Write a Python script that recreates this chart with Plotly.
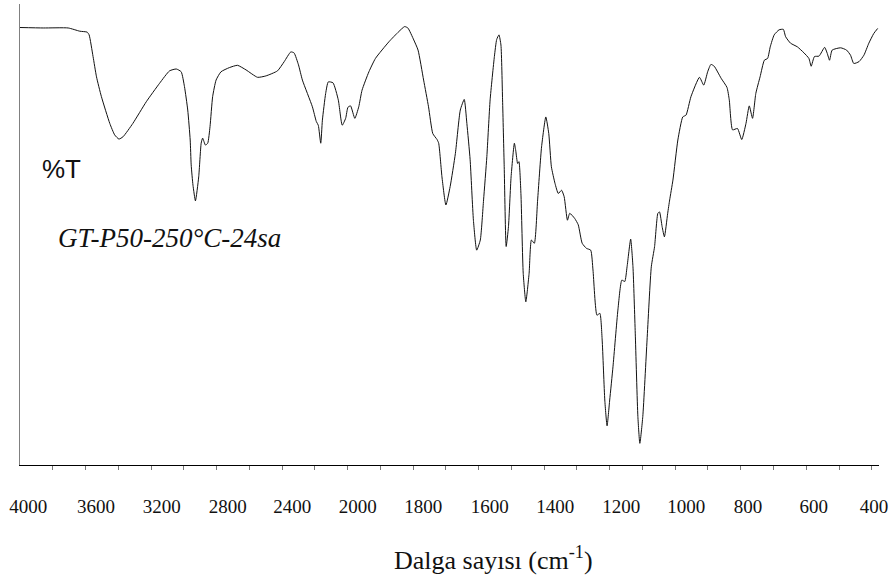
import plotly.graph_objects as go

# ---- data (wavenumber in cm-1, transmittance in %) ----
wavenumber = [4000, 3858, 3706, 3635, 3590, 3578, 3554, 3533, 3503, 3452, 3422, 3396, 3371,
              3311, 3229, 3148, 3087, 3046, 3016, 2996, 2976, 2961, 2955, 2944, 2929, 2909,
              2894, 2885, 2868, 2854, 2840, 2824, 2803, 2773, 2722, 2672, 2620, 2550, 2499,
              2428, 2387, 2347, 2327, 2300, 2276, 2215, 2191, 2179, 2164, 2154, 2134, 2118,
              2089, 2057, 2033, 2012, 1999, 1991, 1978, 1966, 1956, 1935, 1915, 1874, 1844,
              1826, 1816, 1798, 1785, 1768, 1753, 1740, 1727, 1722, 1712, 1700, 1687, 1671,
              1656, 1644, 1636, 1626, 1616, 1606, 1595, 1585, 1575, 1565, 1552, 1545, 1538,
              1532, 1527, 1522, 1516, 1509, 1501, 1491, 1487, 1481, 1477, 1471, 1464, 1456,
              1446, 1439, 1430, 1420, 1408, 1395, 1386, 1378, 1367, 1357, 1347, 1339, 1329,
              1322, 1307, 1296, 1284, 1271, 1258, 1251, 1239, 1230, 1223, 1215, 1208, 1200,
              1190, 1175, 1163, 1154, 1147, 1136, 1129, 1122, 1114, 1108, 1099, 1086, 1073,
              1063, 1053, 1048, 1040, 1033, 1023, 1017, 1007, 992, 977, 967, 952, 926, 913,
              901, 891, 881, 860, 842, 835, 825, 810, 797, 784, 774, 764, 754, 741, 728, 718,
              710, 698, 683, 670, 663, 648, 627, 607, 592, 585, 575, 561, 544, 536, 529, 521,
              495, 477, 465, 455, 439, 424, 409, 394, 382]
transmittance = [94.9, 94.8, 94.8, 94.1, 93.9, 93.3, 88.6, 84.2, 79.9, 74.1, 71.6, 70.7, 71.2,
                 74.1, 78.8, 82.8, 85.5, 85.9, 85.3, 82.1, 77.0, 70.5, 65.1, 60.7, 57.3, 62.5,
                 69.8, 70.9, 69.4, 69.8, 73.4, 79.9, 83.5, 85.3, 86.2, 86.7, 85.7, 84.1, 84.4,
                 85.5, 87.5, 89.6, 89.4, 86.8, 83.5, 77.7, 74.5, 73.7, 69.8, 74.8, 80.6, 83.1,
                 82.9, 79.2, 73.7, 75.2, 77.6, 77.9, 75.2, 77.7, 81.3, 85.3, 88.2, 91.8, 94.0,
                 95.1, 94.8, 92.2, 90.0, 83.5, 77.7, 71.9, 70.6, 69.8, 62.5, 56.4, 60.4, 67.6,
                 77.0, 79.3, 74.1, 66.2, 53.1, 46.6, 48.8, 57.5, 66.9, 79.2, 88.6, 92.3, 93.3,
                 91.1, 79.2, 64.7, 47.4, 51.7, 62.5, 69.8, 68.3, 65.4, 65.8, 58.9, 41.6, 35.4,
                 41.6, 48.8, 48.1, 57.5, 69.0, 75.5, 71.9, 64.7, 61.1, 58.9, 59.6, 58.2, 53.1,
                 54.6, 53.5, 52.1, 48.1, 47.0, 46.6, 42.3, 32.5, 32.9, 27.1, 14.1, 8.5, 14.1,
                 21.3, 33.6, 40.1, 39.8, 43.0, 49.0, 43.0, 28.6, 10.5, 4.7, 10.5, 27.1, 43.0,
                 47.4, 54.6, 54.9, 51.7, 49.5, 54.6, 57.5, 61.8, 70.5, 75.5, 75.9, 79.9, 84.1, 82.4,
                 85.3, 86.9, 86.5, 83.9, 81.9, 79.2, 72.7, 73.0, 70.6, 74.1, 77.9, 75.2, 80.6, 84.2, 87.8, 88.2,
                 90.7, 93.3, 94.4, 94.5, 92.9, 91.5, 90.7, 89.4, 88.2, 86.5, 88.6, 88.7, 90.6, 89.3, 87.8, 90.0,
                 90.5, 90.0, 88.9, 87.1, 87.5, 88.9, 91.5, 93.6, 94.7]

tick_labels = [4000, 3600, 3200, 2800, 2400, 2000, 1800, 1600, 1400, 1200, 1000, 800, 600, 400]
minor_ticks = list(range(3800, 2000, -200)) + list(range(2000, 399, -100))

# ---- styling ----
SERIF = "Liberation Serif, Times New Roman, Times, serif"
SANS = "Liberation Sans, Arial, Helvetica, sans-serif"
label_shift = [0.25, 0.32, 0.33, 0.34, 0.31, 0.31, 0.31, 0.34, 0.34, 0.35, 0.34, 0.22, 0.23, 0.07]


def wn_to_pos(w):
    """Instrument-style split wavenumber scale: 400 cm-1 per division above 2000,
    100 cm-1 per division below 2000 (each division the same length)."""
    return (4000 - w) / 200.0 if w >= 2000 else 10 + (2000 - w) / 100.0


xpos = [wn_to_pos(w) for w in wavenumber]

fig = go.Figure()
fig.add_trace(go.Scatter(
    x=xpos, y=transmittance, mode="lines",
    line=dict(color="#111111", width=1, shape="spline", smoothing=0.5),
    hoverinfo="skip", showlegend=False,
))

fig.update_layout(
    width=892, height=582,
    margin=dict(l=20, r=10, t=4, b=117),
    paper_bgcolor="white", plot_bgcolor="white",
    font=dict(family=SERIF, color="#111111"),
    xaxis=dict(
        range=[0, wn_to_pos(378)],
        showgrid=False, zeroline=False,
        showline=True, linecolor="#000000", linewidth=1,
        tickmode="array",
        tickvals=[wn_to_pos(w) + s for w, s in zip(tick_labels, label_shift)],
        ticktext=[str(w) for w in tick_labels],
        ticks="", tickfont=dict(family=SERIF, size=19, color="#111111"),
        ticklabelstandoff=24,
        minor=dict(tickmode="array", tickvals=[wn_to_pos(w) for w in minor_ticks],
                   ticks="outside", ticklen=4, tickcolor="#777777", tickwidth=1,
                   showgrid=False),
    ),
    yaxis=dict(
        range=[0, 100], showgrid=False, zeroline=False,
        showline=True, linecolor="#808080", linewidth=1,
        showticklabels=False, ticks="",
    ),
    annotations=[
        dict(text="%T", xref="paper", yref="paper", x=0.0484, y=0.641,
             xanchor="center", yanchor="middle", showarrow=False,
             font=dict(family=SANS, size=26, color="#111111")),
        dict(text="GT-P50-250°C-24sa", xref="paper", yref="paper", x=0.174, y=0.492,
             xanchor="center", yanchor="middle", showarrow=False,
             font=dict(family=SERIF, size=27, color="#111111", style="italic")),
        dict(text="Dalga sayısı (cm<sup>-1</sup>)", xref="paper", yref="paper", x=0.551, y=-0.203,
             xanchor="center", yanchor="middle", showarrow=False,
             font=dict(family=SERIF, size=26, color="#111111")),
    ],
)

fig.write_html("out.html")
